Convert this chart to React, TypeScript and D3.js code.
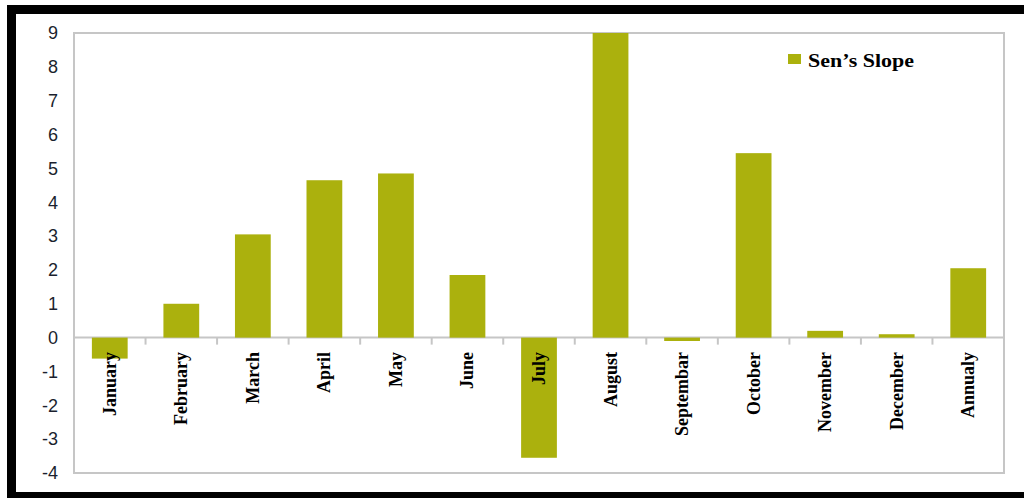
import React from "react";
import * as d3 from "d3";

const categories = ["January","February","March","April","May","June","July","August","Septembar","October","November","December","Annualy"];
const sensSlope = [-0.62, 1.0, 3.05, 4.65, 4.85, 1.85, -3.55, 9.0, -0.1, 5.45, 0.2, 0.1, 2.05];
const yTicks = [9,8,7,6,5,4,3,2,1,0,-1,-2,-3,-4];
const seriesName = "Sen\u2019s Slope";

const W = 1024, H = 498;
const plot = { left: 74, right: 1004, top: 33, bottom: 473 };
const barColor = "#abb10d";

export default function App() {
  const x = d3.scaleBand<string>().domain(categories).range([plot.left, plot.right]).paddingInner(0.5).paddingOuter(0.25);
  const xb = d3.scaleBand<string>().domain(categories).range([plot.left, plot.right]);
  const y = d3.scaleLinear().domain([-4, 9]).range([plot.bottom, plot.top]);
  const y0 = y(0);
  return (
    <svg width={W} height={H} style={{ position: "absolute", left: 0, top: 0, background: "#fff" }}>
      <rect x={0} y={0} width={W} height={H} fill="#fff" />
      {/* frame */}
      <rect x={7} y={5} width={W} height={9} fill="#000" />
      <rect x={7} y={5} width={9} height={H} fill="#000" />
      <rect x={7} y={492} width={W} height={6} fill="#000" />
      {/* plot border */}
      <rect x={plot.left} y={plot.top} width={plot.right - plot.left} height={plot.bottom - plot.top} fill="none" stroke="#c6c6c6" strokeWidth={2} />
      {/* zero axis */}
      <line x1={plot.left} x2={plot.right} y1={y0} y2={y0} stroke="#c6c6c6" strokeWidth={2} />
      {categories.slice(1).map((c) => (
        <line key={"t" + c} x1={xb(c)!} x2={xb(c)!} y1={y0} y2={y0 + 7} stroke="#c6c6c6" strokeWidth={2} />
      ))}
      {/* bars */}
      {categories.map((c, i) => {
        const v = sensSlope[i];
        return (
          <rect key={c} x={x(c)!} width={x.bandwidth()} y={Math.min(y(v), y0)} height={Math.abs(y(v) - y0)} fill={barColor} />
        );
      })}
      {/* y tick labels */}
      {yTicks.map((t) => (
        <text key={t} x={58} y={y(t)} dy="0.35em" textAnchor="end" fontFamily="Liberation Sans, Arial, sans-serif" fontSize={18} fill="#1b1f2e">
          {t}
        </text>
      ))}
      {/* category labels */}
      {categories.map((c) => {
        const cx = xb(c)! + xb.bandwidth() / 2;
        return (
          <text key={"l" + c} transform={`translate(${cx + 6},${352}) rotate(-90)`} textAnchor="end" fontFamily="Liberation Serif, Times New Roman, serif" fontWeight="bold" fontSize={18} fill="#000">
            {c}
          </text>
        );
      })}
      {/* legend */}
      <rect x={788} y={54} width={13} height={10} fill={barColor} />
      <text x={808} y={67} fontFamily="Liberation Serif, Times New Roman, serif" fontWeight="bold" fontSize={19} textLength={106} lengthAdjust="spacingAndGlyphs" fill="#000">
        {seriesName}
      </text>
    </svg>
  );
}
